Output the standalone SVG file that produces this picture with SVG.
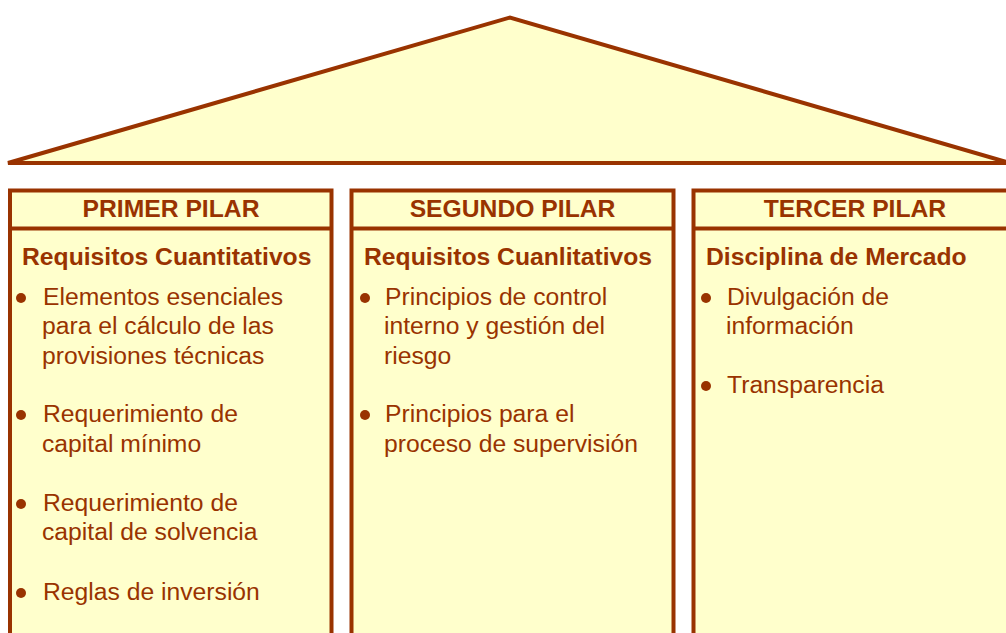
<svg xmlns="http://www.w3.org/2000/svg" width="1006" height="633" viewBox="0 0 1006 633">
<style>
.shape{fill:#FFFFCC;stroke:#993300;stroke-width:4}
.div{stroke:#993300;stroke-width:4}
text{font-family:"Liberation Sans",Arial,sans-serif;font-size:24.7px;fill:#993300}
.h{font-weight:bold;text-anchor:middle}
.t{font-weight:bold}
.dot{fill:#993300}
</style>
<rect width="1006" height="633" fill="#FFFFFF"/>
<g id="roof">
<polygon class="shape" points="8,163 510,17.5 1010,163"/>
</g>
<g id="pilar1">
<rect class="shape" x="10" y="190.5" width="321.5" height="470"/>
<line class="div" x1="10" y1="228.5" x2="331.5" y2="228.5"/>
<text class="h" x="171" y="217">PRIMER PILAR</text>
<text class="t" x="22" y="265">Requisitos Cuantitativos</text>
<circle class="dot" cx="21" cy="298" r="5"/>
<text x="43" y="305">Elementos esenciales</text>
<text x="42" y="334">para el cálculo de las</text>
<text x="42" y="364">provisiones técnicas</text>
<circle class="dot" cx="21" cy="415" r="5"/>
<text x="43" y="422">Requerimiento de</text>
<text x="42" y="452">capital mínimo</text>
<circle class="dot" cx="21" cy="504" r="5"/>
<text x="43" y="511">Requerimiento de</text>
<text x="42" y="540">capital de solvencia</text>
<circle class="dot" cx="21" cy="593" r="5"/>
<text x="43" y="600">Reglas de inversión</text>
</g>
<g id="pilar2">
<rect class="shape" x="351.5" y="190.5" width="322" height="470"/>
<line class="div" x1="351.5" y1="228.5" x2="673.5" y2="228.5"/>
<text class="h" x="512.5" y="217">SEGUNDO PILAR</text>
<text class="t" x="364" y="265">Requisitos Cuanlitativos</text>
<circle class="dot" cx="365" cy="298" r="5"/>
<text x="385" y="305">Principios de control</text>
<text x="384" y="334">interno y gestión del</text>
<text x="384" y="364">riesgo</text>
<circle class="dot" cx="365" cy="415" r="5"/>
<text x="385" y="422">Principios para el</text>
<text x="384" y="452">proceso de supervisión</text>
</g>
<g id="pilar3">
<rect class="shape" x="693.5" y="190.5" width="330" height="470"/>
<line class="div" x1="693.5" y1="228.5" x2="1010" y2="228.5"/>
<text class="h" x="855" y="217">TERCER PILAR</text>
<text class="t" x="706" y="265">Disciplina de Mercado</text>
<circle class="dot" cx="706" cy="298" r="5"/>
<text x="727" y="305">Divulgación de</text>
<text x="726" y="334">información</text>
<circle class="dot" cx="706" cy="386" r="5"/>
<text x="727" y="393">Transparencia</text>
</g>
<g id="connectors"></g>
</svg>
